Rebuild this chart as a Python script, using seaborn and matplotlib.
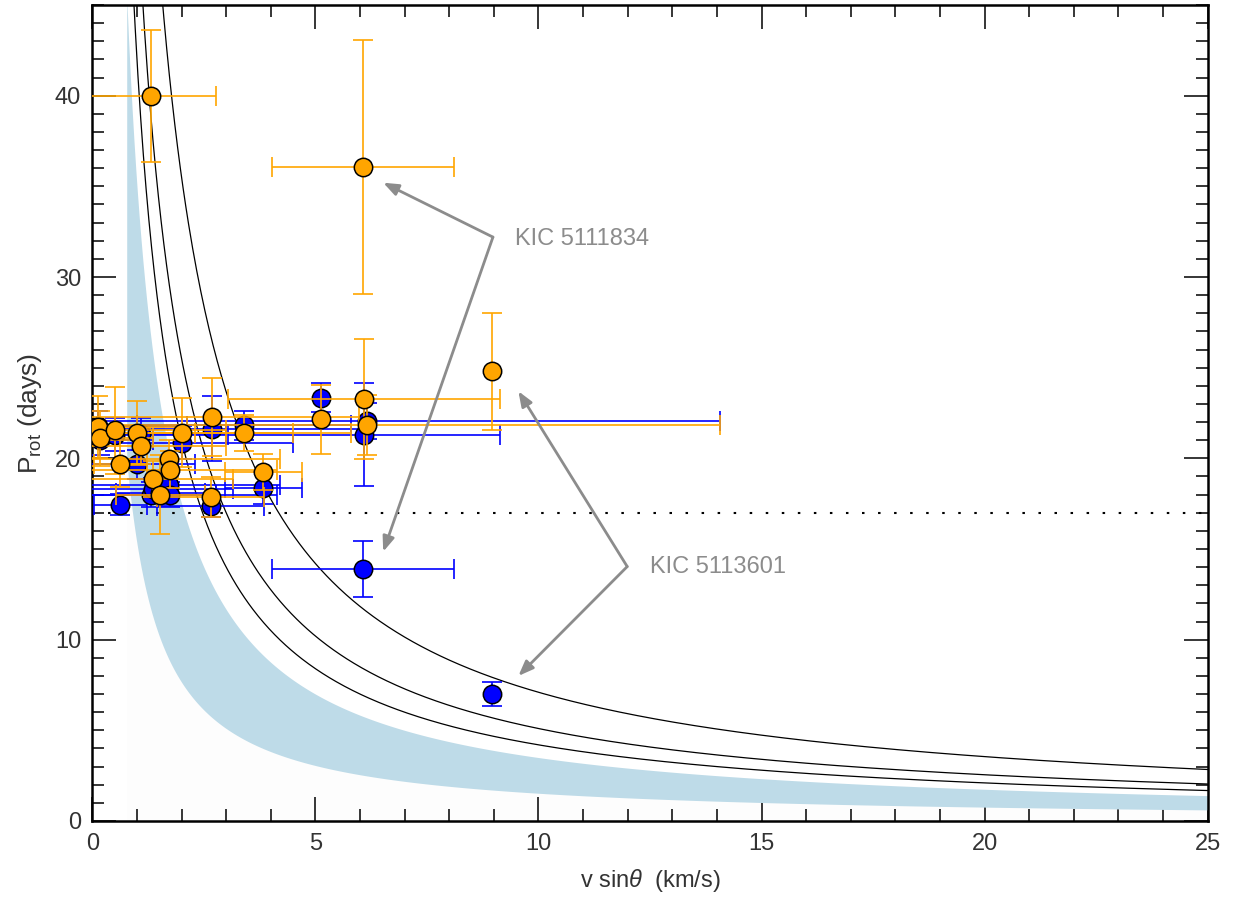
import numpy as np
import matplotlib
matplotlib.use("Agg")
import matplotlib.pyplot as plt
import seaborn as sns
import pandas as pd
from matplotlib.ticker import MultipleLocator

# --- data ---
vsini     = [0.13, 0.17, 0.50, 0.63, 0.99, 1.10, 1.32, 1.35, 1.52, 1.71, 1.73,
             2.00, 2.65, 2.68, 3.40, 3.83, 5.13, 6.07, 6.09, 6.16, 8.95]
vsini_err = [2.0, 1.2, 2.5, 0.6, 1.3, 1.9, 1.45, 1.8, 1.0, 2.5, 2.4,
             2.5, 1.2, 3.3, 2.4, 0.86, 0.0, 2.04, 3.04, 7.9, 0.0]
p_blue     = [21.8, 21.0, 21.3, 17.45, 19.66, 21.35, 18.0, 18.3, 18.1, 18.55, 18.0,
              20.86, 17.38, 21.63, 21.83, 18.37, 23.34, 13.9, 21.31, 22.05, 7.01]
p_blue_err = [0.8, 0.8, 0.9, 0.6, 0.8, 0.9, 0.7, 0.6, 0.6, 0.7, 0.7,
              0.9, 0.6, 1.8, 0.8, 0.9, 0.8, 1.55, 2.85, 1.0, 0.65]
p_orange     = [21.72, 21.1, 21.55, 19.7, 21.4, 20.67, 39.98, 18.88, 18.0, 19.99, 19.38,
                21.4, 17.85, 22.3, 21.4, 19.23, 22.16, 36.06, 23.29, 21.85, 24.79]
p_orange_err = [1.7, 1.5, 2.4, 1.3, 1.75, 1.0, 3.65, 1.0, 2.2, 1.0, 1.0,
                1.9, 1.1, 2.15, 1.0, 1.0, 1.9, 7.0, 3.3, 1.65, 3.2]

curve_consts = [71.0, 51.0, 42.0]      # P = C / vsini
band_lo, band_hi, band_xmin = 15.3, 35.0, 0.77
p_line = 17.0

df = pd.DataFrame({"vsini": vsini, "xerr": vsini_err,
                   "pb": p_blue, "pb_err": p_blue_err,
                   "po": p_orange, "po_err": p_orange_err})

sns.set_style("ticks")
plt.rcParams['font.family'] = ['Liberation Sans', 'DejaVu Sans']
plt.rcParams['mathtext.fontset'] = 'custom'
plt.rcParams['mathtext.it'] = 'Liberation Sans:italic'
plt.rcParams['mathtext.rm'] = 'Liberation Sans'

fig = plt.figure(figsize=(12.33, 9.11), dpi=100)
ax = fig.add_axes([0.0749, 0.0988, 0.9045, 0.8957])

# shaded band
xb = np.linspace(band_xmin, 25, 600)
ax.fill_between(xb, 0, band_lo / xb, color='#fdfdfd', lw=0, zorder=0)
ax.fill_between(xb, band_lo / xb, band_hi / xb, color='#bedbe8', lw=0, zorder=1)

# model curves
xc = np.linspace(0.5, 25, 800)
for c in curve_consts:
    ax.plot(xc, c / xc, color='black', lw=0.9, zorder=2)

ax.axhline(p_line, color='black', lw=1.5, ls=(0, (1.2, 6.5)), zorder=2)

# blue set
ax.errorbar(df.vsini, df.pb, xerr=df.xerr, yerr=df.pb_err, fmt='none',
            ecolor='#0000ff', elinewidth=1.2, capsize=7, capthick=1.2, zorder=3)
sns.scatterplot(data=df, x="vsini", y="pb", ax=ax, color='#0000ff', s=175,
                edgecolor='black', linewidth=1.1, zorder=4, legend=False)
# orange set
ax.errorbar(df.vsini, df.po, xerr=df.xerr, yerr=df.po_err, fmt='none',
            ecolor='#ffa500', elinewidth=1.2, capsize=7, capthick=1.2, zorder=5)
sns.scatterplot(data=df, x="vsini", y="po", ax=ax, color='#ffa500', s=175,
                edgecolor='black', linewidth=1.1, zorder=6, legend=False)

# annotations
arrow = dict(arrowstyle='-|>,head_length=0.9,head_width=0.35', color='#8c8c8c',
             lw=2, shrinkA=0, shrinkB=0)
for tgt in [(6.52, 35.2), (6.52, 14.85)]:
    ax.annotate('', xy=tgt, xytext=(8.98, 32.2), arrowprops=arrow, zorder=7)
for tgt in [(9.55, 23.7), (9.55, 8.0)]:
    ax.annotate('', xy=tgt, xytext=(11.99, 14.03), arrowprops=arrow, zorder=7)
ax.text(9.48, 32.1, 'KIC 5111834', color='#8c8c8c', fontsize=17, va='center', ha='left')
ax.text(12.5, 14.0, 'KIC 5113601', color='#8c8c8c', fontsize=17, va='center', ha='left')

ax.set_xlim(0, 25)
ax.set_ylim(0, 45)
ax.xaxis.set_major_locator(MultipleLocator(5))
ax.xaxis.set_minor_locator(MultipleLocator(1))
ax.yaxis.set_major_locator(MultipleLocator(10))
ax.yaxis.set_minor_locator(MultipleLocator(1))
ax.tick_params(which='both', direction='in', top=True, right=True, width=1.1, colors='black')
ax.tick_params(which='major', length=17)
ax.tick_params(which='minor', length=8.5)
ax.tick_params(axis='x', which='major', pad=9, labelsize=17, labelcolor='#333333')
ax.tick_params(axis='y', which='major', pad=8, labelsize=17, labelcolor='#333333')
for s in ax.spines.values():
    s.set_linewidth(1.8)
    s.set_color('black')

ax.set_xlabel(r'v sin$\theta$  (km/s)', fontsize=17, color='#333333', labelpad=8)
ax.set_ylabel(r'P$_{\rm rot}$ (days)', fontsize=19, color='#333333', labelpad=8)

fig.savefig('out.png', dpi=100)
